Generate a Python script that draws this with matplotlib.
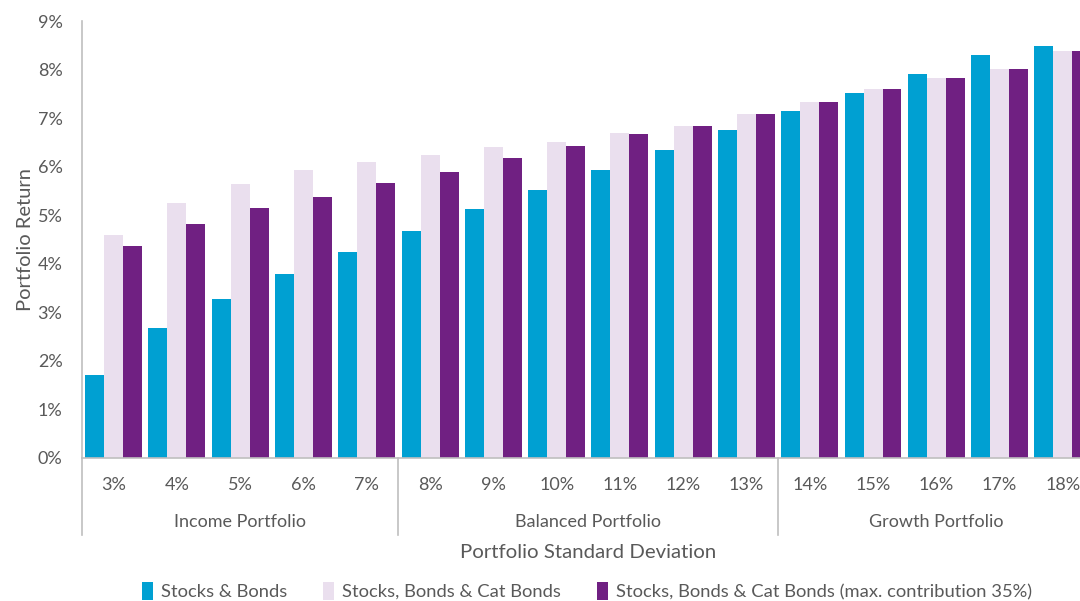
import numpy as np
import matplotlib
matplotlib.use("Agg")
import matplotlib.pyplot as plt
from matplotlib import ticker
from matplotlib.patches import Patch
import matplotlib.transforms as mtransforms

# data
categories = ["3%", "4%", "5%", "6%", "7%", "8%", "9%", "10%", "11%", "12%",
              "13%", "14%", "15%", "16%", "17%", "18%"]
stocks_bonds = [1.70, 2.68, 3.28, 3.78, 4.24, 4.68, 5.12, 5.52, 5.93, 6.34,
                6.76, 7.14, 7.52, 7.90, 8.31, 8.48]
cat_bonds = [4.59, 5.25, 5.64, 5.93, 6.10, 6.23, 6.40, 6.51, 6.69, 6.84,
             7.08, 7.33, 7.60, 7.82, 8.01, 8.39]
cat_bonds_max35 = [4.37, 4.81, 5.14, 5.38, 5.66, 5.88, 6.18, 6.43, 6.67, 6.83,
                   7.08, 7.33, 7.60, 7.82, 8.01, 8.39]
groups = ["Income Portfolio", "Balanced Portfolio", "Growth Portfolio"]
group_sizes = [5, 6, 5]
series_names = ["Stocks & Bonds", "Stocks, Bonds & Cat Bonds",
                "Stocks, Bonds & Cat Bonds (max. contribution 35%)"]

colors = ["#00A0D2", "#EADFEE", "#702082"]
text_color = "#595959"
line_color = "#BFBFBF"

plt.rcParams['font.family'] = ['Lato', 'DejaVu Sans']

fig = plt.figure(figsize=(10.8, 6.01), dpi=100)
ax = fig.add_axes([82 / 1080, (601 - 458) / 601, (1094.5 - 82) / 1080, 437 / 601])

x = np.arange(len(categories))
width = 0.3
for i, (vals, c, name) in enumerate(zip([stocks_bonds, cat_bonds, cat_bonds_max35],
                                        colors, series_names)):
    ax.bar(x + (i - 1) * width, vals, width=width, color=c, label=name)

ax.set_xlim(-0.5, len(categories) - 0.5)
ax.set_ylim(0, 9)
ax.yaxis.set_major_locator(ticker.MultipleLocator(1))
ax.yaxis.set_major_formatter(ticker.FuncFormatter(lambda v, p: "%d%%" % v))
ax.set_xticks(x)
ax.set_xticklabels(categories)
ax.tick_params(axis='both', length=0, labelsize=13, colors=text_color)
ax.tick_params(axis='x', pad=14)
ax.tick_params(axis='y', pad=14)

for s in ["top", "right"]:
    ax.spines[s].set_visible(False)
for s in ["left", "bottom"]:
    ax.spines[s].set_color(line_color)
    ax.spines[s].set_linewidth(1.2)

ax.set_ylabel("Portfolio Return", fontsize=14.5, color=text_color, labelpad=3)

# group separators and labels
trans = mtransforms.blended_transform_factory(ax.transData, ax.transAxes)
sep_bottom = -(535 - 458) / 437
start = -0.5
for g, n in zip(groups, group_sizes):
    ax.plot([start, start], [0, sep_bottom], transform=trans, color=line_color,
            lw=1.2, clip_on=False)
    ax.text(start + n / 2, -(522 - 458) / 437, g, transform=trans, ha='center',
            va='center', fontsize=13, color=text_color)
    start += n

ax.text(7.5, -(553 - 458) / 437, "Portfolio Standard Deviation",
        transform=trans, ha='center', va='center', fontsize=14.7, color=text_color)

handles = [Patch(facecolor=c, label=n) for c, n in zip(colors, series_names)]
fig.legend(handles=handles, loc='center', bbox_to_anchor=(587 / 1080, 1 - 591 / 601),
           ncol=3, frameon=False, fontsize=13.2, handlelength=0.6, handleheight=1.1,
           handletextpad=0.4, columnspacing=2.0, labelcolor=text_color)

fig.savefig("out.png", dpi=100)
